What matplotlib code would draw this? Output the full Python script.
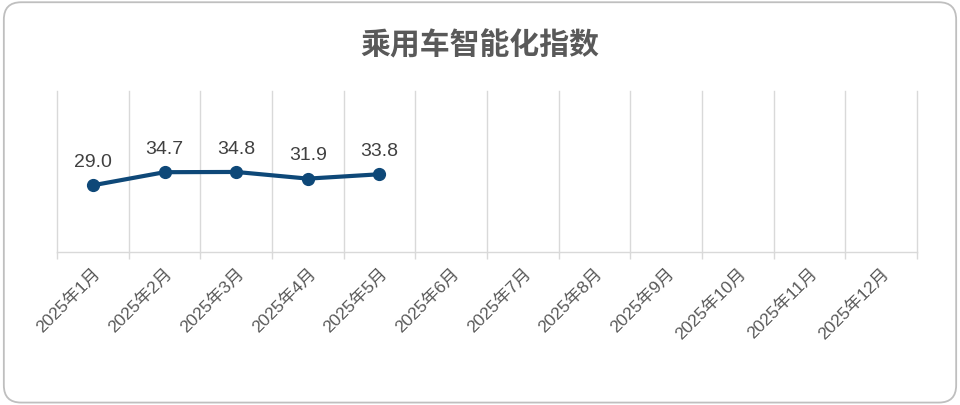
import matplotlib
matplotlib.use("Agg")
import matplotlib.pyplot as plt
from matplotlib.patches import FancyBboxPatch

categories = ["2025年1月", "2025年2月", "2025年3月", "2025年4月", "2025年5月", "2025年6月",
              "2025年7月", "2025年8月", "2025年9月", "2025年10月", "2025年11月", "2025年12月"]
values = [29.0, 34.7, 34.8, 31.9, 33.8]
title = "乘用车智能化指数"

plt.rcParams['font.family'] = ['Liberation Sans', 'Noto Sans CJK SC', 'DejaVu Sans']

fig = plt.figure(figsize=(9.6, 4.06), dpi=100)
border = FancyBboxPatch((0.004, 0.006), 0.992, 0.986, boxstyle="round,pad=0,rounding_size=0.018",
                        transform=fig.transFigure, facecolor="none", edgecolor="#bfbfbf",
                        linewidth=1.3, mutation_aspect=960/406, zorder=-1)
fig.patches.append(border)

ax = fig.add_axes([57/960, (406-253)/406, (917-57)/960, (253-92)/406])
ax.set_facecolor("none")
x = list(range(len(values)))
ax.plot(x, values, color="#0E4878", linewidth=3, marker="o", markersize=8.5, zorder=3)
for xi, v in zip(x, values):
    ax.annotate(f"{v:.1f}", (xi, v), xytext=(0, 11), textcoords="offset points",
                ha="center", va="bottom", fontsize=14, color="#404040")

ax.set_xlim(-0.5, len(categories) - 0.5)
ax.set_ylim(0, 70)
ax.set_xticks(range(len(categories)))
ax.set_xticklabels(categories, rotation=45, ha="right", rotation_mode="anchor",
                   fontsize=12.5, color="#595959")
ax.tick_params(axis="x", which="major", length=0, pad=9)
ax.set_xticks([i - 0.5 for i in range(len(categories) + 1)], minor=True)
ax.tick_params(axis="x", which="minor", length=5, color="#d9d9d9", width=1)
ax.grid(True, which="minor", axis="x", color="#d9d9d9", linewidth=1)
for t in ax.xaxis.get_minor_ticks():
    t.gridline.set_clip_on(False)
ax.set_yticks([])
for s in ["top", "right", "left"]:
    ax.spines[s].set_visible(False)
ax.spines["bottom"].set_color("#d9d9d9")
ax.spines["bottom"].set_linewidth(1)

fig.text(0.5, (406-45)/406, title, ha="center", va="center", fontsize=21.5, fontweight="bold",
         color="#595959", family=['Noto Sans CJK SC', 'DejaVu Sans'])

fig.savefig("out.png", dpi=100)
